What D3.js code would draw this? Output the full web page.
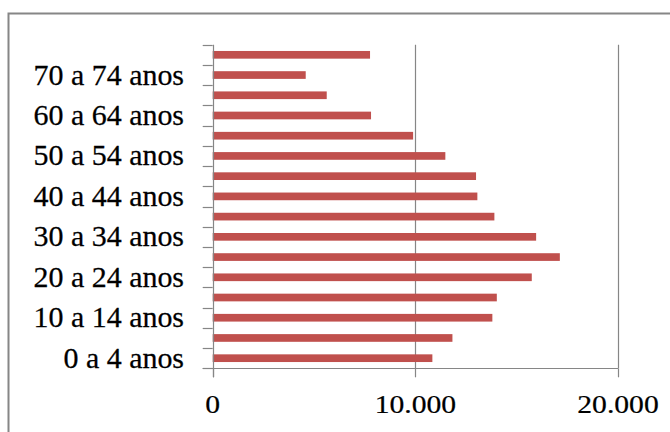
<!DOCTYPE html>
<html><head><meta charset="utf-8">
<script src="https://cdn.jsdelivr.net/npm/d3@7"></script>
<style>html,body{margin:0;padding:0;background:#fff;}svg{display:block;}</style>
</head><body>
<script>
const categories = ["0 a 4 anos","5 a 9 anos","10 a 14 anos","15 a 19 anos","20 a 24 anos","25 a 29 anos","30 a 34 anos","35 a 39 anos","40 a 44 anos","45 a 49 anos","50 a 54 anos","55 a 59 anos","60 a 64 anos","65 a 69 anos","70 a 74 anos","75 anos e mais"];
const values = [10840,11830,13800,14020,15745,17130,15960,13900,13060,12995,11480,9890,7813,5627,4590,7764];
const xTicks = [0,10000,20000];
const xTickLabels = ["0","10.000","20.000"];

(function () {
const W = 670, H = 432;
const pLeft = 212.7, pRight = 618, pTop = 44.7, pBottom = 368.3;
const svg = d3.select("body").append("svg").attr("width", W).attr("height", H);

// outer border
svg.append("rect").attr("x", 8.5).attr("y", 13.5).attr("width", W + 20).attr("height", H + 20)
  .attr("fill", "none").attr("stroke", "#868686").attr("stroke-width", 2);

const x = d3.scaleLinear().domain([0, 20000]).range([pLeft, pRight]);
const y = d3.scaleBand().domain(categories.slice().reverse()).range([pTop, pBottom])
  .paddingInner(0.62).paddingOuter(0.31);
const step = y.step();
const axisColor = "#868686";

// gridlines
svg.append("g").selectAll("line").data(xTicks.slice(1)).join("line")
  .attr("x1", d => Math.round(x(d)) + 0.5).attr("x2", d => Math.round(x(d)) + 0.5)
  .attr("y1", pTop).attr("y2", pBottom)
  .attr("stroke", axisColor).attr("stroke-width", 1.2);

// bars
svg.append("g").selectAll("rect").data(categories).join("rect")
  .attr("x", x(0)).attr("y", d => y(d))
  .attr("width", (d, i) => x(values[i]) - x(0))
  .attr("height", y.bandwidth())
  .attr("fill", "#c0504d");

// y axis line & ticks (at band boundaries)
svg.append("line").attr("x1", Math.round(pLeft) + 0.5).attr("x2", Math.round(pLeft) + 0.5)
  .attr("y1", pTop).attr("y2", pBottom + 9).attr("stroke", axisColor).attr("stroke-width", 1.2);
const boundaries = d3.range(categories.length + 1).map(i => pTop + i * step);
svg.append("g").selectAll("line").data(boundaries).join("line")
  .attr("x1", pLeft - 10).attr("x2", pLeft)
  .attr("y1", d => Math.round(d) + 0.5).attr("y2", d => Math.round(d) + 0.5)
  .attr("stroke", axisColor).attr("stroke-width", 1.2);

// x axis line & ticks
svg.append("line").attr("x1", pLeft - 10).attr("x2", pRight)
  .attr("y1", Math.round(pBottom) + 0.5).attr("y2", Math.round(pBottom) + 0.5)
  .attr("stroke", axisColor).attr("stroke-width", 1.2);
svg.append("g").selectAll("line").data(xTicks).join("line")
  .attr("x1", d => Math.round(x(d)) + 0.5).attr("x2", d => Math.round(x(d)) + 0.5)
  .attr("y1", pBottom).attr("y2", pBottom + 9)
  .attr("stroke", axisColor).attr("stroke-width", 1.2);

// y labels (every other category)
svg.append("g").selectAll("text").data(categories.filter((d, i) => i % 2 === 0)).join("text")
  .attr("transform", d => `translate(184,${y(d) + y.bandwidth() / 2 + 9.5}) scale(1.05,1)`)
  .attr("text-anchor", "end")
  .attr("font-family", "'Liberation Serif', 'Times New Roman', serif")
  .attr("font-size", 28.5).attr("fill", "#000")
  .attr("stroke", "#000").attr("stroke-width", 0.25)
  .text(d => d);

// x labels
svg.append("g").selectAll("text").data(xTicks).join("text")
  .attr("transform", d => `translate(${x(d)},413.3) scale(1.2,1)`)
  .attr("text-anchor", "middle")
  .attr("font-family", "'Liberation Serif', 'Times New Roman', serif")
  .attr("font-size", 24.7).attr("fill", "#000")
  .attr("stroke", "#000").attr("stroke-width", 0.2)
  .text((d, i) => xTickLabels[i]);
})();
</script>
</body></html>
